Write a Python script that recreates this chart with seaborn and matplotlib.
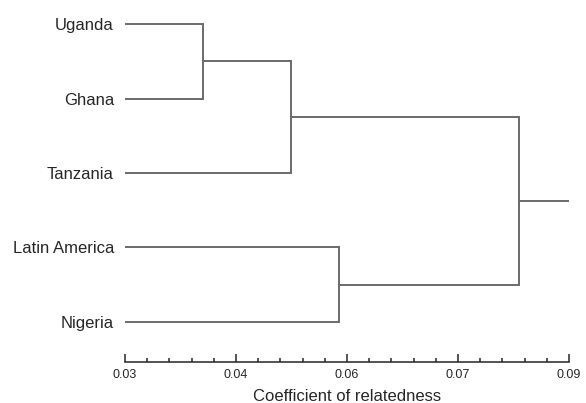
import numpy as np
import pandas as pd
import matplotlib
matplotlib.use("Agg")
import matplotlib.pyplot as plt
import seaborn as sns

# leaves top to bottom, and the merges (left child, right child, height)
leaves = ["Uganda", "Ghana", "Tanzania", "Latin America", "Nigeria"]
merges = [(0, 1, 0.0405), (5, 2, 0.0524), (3, 4, 0.0589), (6, 7, 0.0832)]
root_end = 0.0905
leaf_start = 0.03
tick_vals = [0.03, 0.045, 0.06, 0.075, 0.09]
tick_labels = ["0.03", "0.04", "0.06", "0.07", "0.09"]

sns.set_style("ticks")
plt.rcParams["font.family"] = ["Liberation Sans", "DejaVu Sans"]

# build segments
n = len(leaves)
ypos = {i: float(n - 1 - i) for i in range(n)}
xpos = {i: leaf_start for i in range(n)}
rows = []
seg = 0
for k, (a, b, h) in enumerate(merges):
    node = n + k
    for c in (a, b):
        rows += [(seg, xpos[c], ypos[c]), (seg, h, ypos[c])]
        seg += 1
    rows += [(seg, h, ypos[a]), (seg, h, ypos[b])]
    seg += 1
    ypos[node] = (ypos[a] + ypos[b]) / 2
    xpos[node] = h
root = n + len(merges) - 1
rows += [(seg, xpos[root], ypos[root]), (seg, root_end, ypos[root])]
df = pd.DataFrame(rows, columns=["seg", "x", "y"])

fig = plt.figure(figsize=(5.86, 4.03), dpi=100)
ax = fig.add_axes([0.2133, 0.1018, 0.7577, 0.875])
sns.lineplot(data=df, x="x", y="y", units="seg", estimator=None, sort=False,
             color="#6a6a6a", linewidth=1.4, ax=ax, legend=False)

ax.set_xlim(0.03, 0.09)
ax.set_ylim(-0.54, 4.2)
ax.set_yticks(range(n))
ax.set_yticklabels(leaves[::-1], fontsize=12)
ax.tick_params(axis="y", length=0, pad=8)
ax.set_xticks(tick_vals)
ax.set_xticklabels(tick_labels, fontsize=9)
ax.set_xticks(np.linspace(0.03, 0.09, 21), minor=True)
ax.tick_params(axis="x", which="major", direction="in", length=6, width=1.1, pad=5)
ax.tick_params(axis="x", which="minor", direction="in", length=3, width=1.1)
ax.set_xlabel("Coefficient of relatedness", fontsize=12, labelpad=6)
ax.set_ylabel("")
sns.despine(ax=ax, left=True)
ax.spines["bottom"].set_linewidth(1.1)

fig.savefig("out.png", dpi=100)
